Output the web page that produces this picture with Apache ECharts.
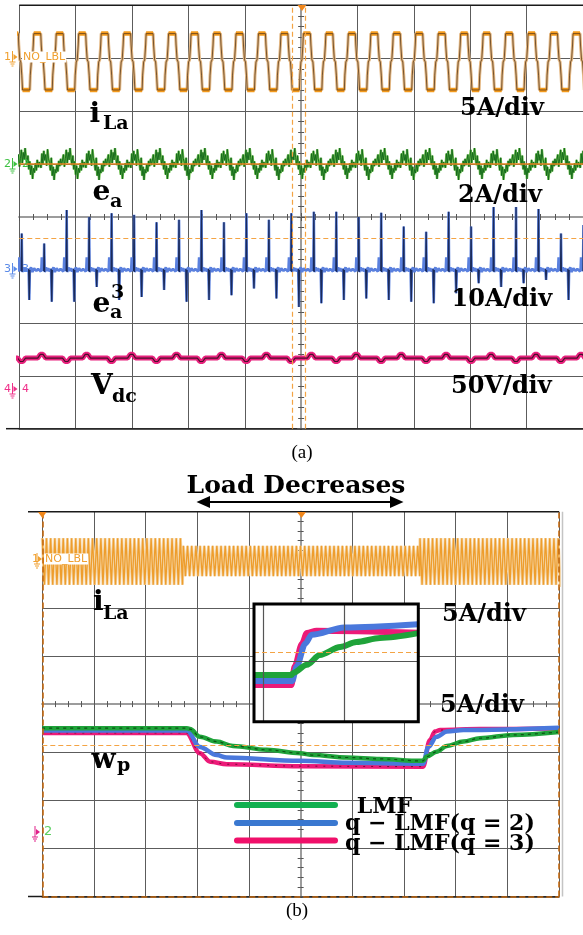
<!DOCTYPE html>
<html>
<head>
<meta charset="utf-8">
<title>Scope captures (a) / (b)</title>
<script src="https://cdn.jsdelivr.net/npm/echarts@6.0.0/dist/echarts.min.js"></script>
<style>
  html, body { margin: 0; padding: 0; background: #fff; }
  #chart { width: 583px; height: 935px; }
</style>
</head>
<body>
<div id="chart"></div>
<script>
// every value is in scope divisions (10 x 8 screen)

// ---- (a) steady state ----
const periodA = 0.3986
// one cycle of i_La, offsets from the start of the top plateau
const iLaShapeA = [[0, 7.465], [0.124, 7.465], [0.133, 7.25], [0.151, 6.97], [0.169, 6.93], [0.186, 6.68], [0.2, 6.40], [0.328, 6.40], [0.337, 6.68], [0.355, 6.93], [0.373, 6.97], [0.39, 7.25]]
const iLaPlateauA = [[0, 0.124, 7.465], [0.2, 0.328, 6.40]]
const iLaStartA = -0.142
// e_a, two cycles, 24 samples per cycle
const eaValuesA = [5.00, 5.18, 4.95, 5.10, 5.27, 5.02, 5.22, 5.08, 5.30, 5.12, 4.98, 5.16, 4.90, 5.05, 4.80, 4.97, 4.72, 4.92, 4.84, 5.02, 4.88, 5.08, 4.94, 5.04,
  5.06, 4.93, 5.20, 5.00, 5.25, 5.07, 5.18, 4.97, 5.28, 5.10, 5.03, 4.88, 5.12, 4.78, 4.95, 4.70, 4.90, 4.83, 5.00, 4.86, 5.06, 4.96, 5.10, 4.98]
const eaStartA = -0.03
// e_a^3 cycle around its spikes
const ea3ShapeA = [[-0.075, 3.02], [-0.06, 2.97], [-0.05, 3.03], [-0.042, 3.24], [-0.036, 3.0], [-0.02, 3.04], [-0.008, 2.98], [0, 'up'], [0.008, 2.96], [0.02, 2.93], [0.032, 3.05], [0.05, 2.98], [0.07, 3.03], [0.1, 2.97], [0.122, 3.02], [0.134, 'dn'], [0.144, 3.0], [0.165, 3.05], [0.19, 2.96], [0.22, 3.03], [0.26, 2.98], [0.29, 3.02], [0.315, 2.99]]
const ea3UpA = [3.69, 3.50, 4.13, 4.00, 4.07, 4.04, 3.90, 3.95, 4.13, 3.90, 4.07, 3.95, 4.07, 4.10, 4.10, 4.00, 4.08, 3.82, 3.72, 4.10, 3.82, 4.19, 4.19, 4.15, 3.69, 3.85]
const ea3DownA = [2.43, 2.40, 2.40, 2.68, 2.43, 2.49, 2.62, 2.40, 2.43, 2.52, 2.65, 2.46, 2.30, 2.37, 2.43, 2.46, 2.43, 2.40, 2.37, 2.56, 2.75, 2.68, 2.75, 2.81, 2.43, 2.50]
const ea3StartA = 0.043
// V_dc, one ripple cycle (two mains cycles)
const vdcShapeA = [[-0.07, 1.335], [-0.025, 1.405], [0.025, 1.405], [0.07, 1.335], [0.37, 1.335], [0.415, 1.27], [0.465, 1.27], [0.51, 1.335]]
const vdcStartA = -0.4
const cursorsHA = [3.59]
const cursorsVA = [4.84, 5.07]

// ---- (b) load step ----
const periodB = 0.081
const iLaOffsetsB = [0, 0.012, 0.04, 0.052]
const iLaHighB = [7.45, 7.41, 6.48, 6.44]
const iLaLowB = [7.29, 7.25, 6.66, 6.62]
const iLaSegmentsB = [[0, 2.73, 'high'], [2.73, 7.31, 'low'], [7.31, 10.05, 'high']]
const wpPink = [[0, 3.40], [2.79, 3.40], [3.05, 2.98], [3.25, 2.80], [3.57, 2.75], [4.99, 2.71], [7.37, 2.70], [7.50, 3.25], [7.60, 3.43], [7.70, 3.46], [8.47, 3.48], [10, 3.50]]
const wpBlue = [[0, 3.45], [2.80, 3.45], [3.05, 3.11], [3.375, 2.94], [3.57, 2.89], [4.99, 2.82], [5.9, 2.78], [7.37, 2.76], [7.47, 3.11], [7.63, 3.32], [7.83, 3.43], [8.15, 3.46], [10, 3.51]]
const wpGreen = [[0, 3.50], [2.80, 3.50], [2.86, 3.48], [3.05, 3.32], [3.375, 3.22], [3.69, 3.13], [4.34, 3.05], [4.99, 2.98], [5.24, 2.94], [5.89, 2.89], [6.54, 2.86], [7.31, 2.82], [7.37, 2.82], [7.44, 2.91], [7.63, 3.01], [7.83, 3.13], [8.15, 3.22], [8.47, 3.29], [9.11, 3.36], [10, 3.42]]
const cursorsHB = [3.15]
// zoomed inset (its own divisions)
const inPink = [[0, 0.45], [0.46, 0.45], [0.50, 0.68], [0.59, 0.96], [0.65, 1.09], [0.77, 1.12], [2.02, 1.095]]
const inBlue = [[0, 0.50], [0.47, 0.50], [0.525, 0.68], [0.63, 0.96], [0.71, 1.07], [1.11, 1.16], [2.02, 1.20]]
const inGreen = [[0, 0.575], [0.46, 0.575], [0.48, 0.60], [0.65, 0.70], [0.81, 0.82], [1.06, 0.92], [1.26, 0.98], [1.55, 1.03], [2.02, 1.09]]
const inGridX = [0.107, 1.107]
const inGridY = [0.738]
const inCursor = [0.861]

// ---------- helpers ----------
function tile(shape, period, start, end) {
  const out = []
  for (let t = start; t < end; t += period) {
    shape.forEach(p => out.push([t + p[0], p[1]]))
  }
  return out
}
function plateaus(list, period, start, end) {
  const out = []
  for (let t = start; t < end; t += period) {
    list.forEach(p => out.push([t + p[0], p[2]], [t + p[1], p[2]], [t + p[1], '-']))
  }
  return out
}
function tileValues(values, step, start, end) {
  const out = []
  for (let i = 0; start + i * step <= end + step; i++) out.push([start + i * step, values[i % values.length]])
  return out
}
function buildEa3() {
  const full = [], spikes = []
  for (let k = 0; k < ea3UpA.length; k++) {
    const t = ea3StartA + k * periodA
    ea3ShapeA.forEach((p, i) => {
      let y = p[1]
      if (y === 'up') y = ea3UpA[k]
      if (y === 'dn') y = ea3DownA[k]
      full.push([t + p[0], y])
      if (p[1] === 'up' || p[1] === 'dn') {
        const a = ea3ShapeA[i - 1], b = ea3ShapeA[i + 1]
        spikes.push([t + a[0], a[1]], [t + p[0], y], [t + b[0], b[1]], [t + b[0], '-'])
      }
    })
  }
  return { full, spikes }
}
function buildILaB() {
  const out = []
  iLaSegmentsB.forEach(seg => {
    const ys = seg[2] === 'high' ? iLaHighB : iLaLowB
    for (let t = seg[0]; t < seg[1]; t += periodB) {
      iLaOffsetsB.forEach((dx, i) => out.push([t + dx, ys[i]]))
    }
  })
  return out
}

const ea3 = buildEa3()
const iLaB = buildILaB()

// ---------- axes ----------
function mainX(gi) {
  return {
    type: 'value', gridIndex: gi, position: 'bottom', min: 0, max: 10, interval: 1,
    axisLine: { show: true, onZero: false, lineStyle: { color: '#1a1a1a', width: 1.5 } },
    axisTick: { show: false }, axisLabel: { show: false },
    splitLine: { show: true, lineStyle: { color: '#5c5c5c', width: 1 } }
  }
}
function mainY(gi) {
  return {
    type: 'value', gridIndex: gi, position: 'left', min: 0, max: 8, interval: 1,
    axisLine: { show: true, onZero: false, lineStyle: { color: '#5c5c5c', width: 1 } },
    axisTick: { show: false }, axisLabel: { show: false },
    splitLine: { show: true, lineStyle: { color: '#5c5c5c', width: 1 } }
  }
}
// centre cross lines with the small division marks
function centreX(gi, off, inside) {
  return {
    type: 'value', gridIndex: gi, position: 'bottom', offset: off, min: 0, max: 10, interval: 1,
    axisLine: { show: true, onZero: false, lineStyle: { color: '#9c9c9c', width: 2 } },
    axisTick: { show: true, inside: inside, length: 4, lineStyle: { color: '#555' } },
    minorTick: { show: true, splitNumber: 4, length: 3, lineStyle: { color: '#555' } },
    axisLabel: { show: false }, splitLine: { show: false }
  }
}
function centreY(gi, off, inside) {
  return {
    type: 'value', gridIndex: gi, position: 'left', offset: off, min: 0, max: 8, interval: 1,
    axisLine: { show: true, onZero: false, lineStyle: { color: '#9c9c9c', width: 2 } },
    axisTick: { show: true, inside: inside, length: 4, lineStyle: { color: '#555' } },
    minorTick: { show: true, splitNumber: 5, length: 3, lineStyle: { color: '#555' } },
    axisLabel: { show: false }, splitLine: { show: false }
  }
}

function line(name, data, xi, color, width, extra) {
  return Object.assign({
    name: name, type: 'line', data: data, xAxisIndex: xi, yAxisIndex: xi,
    showSymbol: false, symbol: 'none', silent: true, animation: false,
    lineStyle: { color: color, width: width }
  }, extra || {})
}

const dashOrange = { color: '#f4a444', width: 1.2, type: [5, 3] }
const edgeOrange = { color: '#c46a12', width: 1.6, type: [6, 3] }

// ---------- texts ----------
const serifB = '"DejaVu Serif", serif'
function txt(x, y, s, size, opt) {
  opt = opt || {}
  return {
    type: 'text', z: 10, silent: true,
    style: {
      x: x, y: y, text: s,
      font: (opt.weight || 'bold') + ' ' + size + 'px ' + (opt.family || serifB),
      fill: opt.color || '#000', align: opt.align || 'left', verticalAlign: 'middle',
      backgroundColor: opt.bg, padding: opt.bg ? [0, 1] : 0
    }
  }
}
function seg(x1, y1, x2, y2, color, w, extra) {
  return Object.assign({ type: 'line', silent: true, z: 9, shape: { x1, y1, x2, y2 }, style: { stroke: color, lineWidth: w } }, extra || {})
}
function tri(points, color, z) {
  return { type: 'polygon', silent: true, z: z || 9, shape: { points: points }, style: { fill: color } }
}
// little channel ground marker
function gnd(x, y, color) {
  return [
    seg(x, y - 6, x, y + 5, color, 1),
    seg(x - 3, y + 5, x + 3, y + 5, color, 1),
    seg(x - 2, y + 7, x + 2, y + 7, color, 1),
    seg(x - 1, y + 9, x + 1, y + 9, color, 1),
    tri([[x + 1, y - 3], [x + 5, y], [x + 1, y + 3]], color)
  ]
}
const sans = { weight: 'normal', family: '"DejaVu Sans", sans-serif' }

const graphics = [
  // (a) frame pieces
  seg(19.3, 5.3, 583, 5.3, '#1a1a1a', 1.5),
  seg(6, 428.7, 19.3, 428.7, '#1a1a1a', 1.5),
  tri([[297.5, 5], [306.5, 5], [302, 11]], '#f0861a'),
  // (b) frame pieces
  seg(28, 511.7, 559, 511.7, '#1a1a1a', 1.5),
  seg(28, 896.5, 42.3, 896.5, '#1a1a1a', 1.5),
  seg(562.5, 511.7, 562.5, 896.5, '#c4c4c4', 1.5),
  tri([[38, 512], [46.5, 512], [42.3, 518]], '#f0861a'),
  tri([[297, 512], [306, 512], [301.5, 518]], '#f0861a'),
  // inset box
  { type: 'rect', silent: true, z: 3, shape: { x: 254, y: 604, width: 164.3, height: 117.7 }, style: { fill: '#fff' } },
  { type: 'rect', silent: true, z: 6, shape: { x: 254, y: 604, width: 164.3, height: 117.7 }, style: { fill: 'none', stroke: '#000', lineWidth: 3 } },
  // Load Decreases arrow
  seg(206, 502, 393, 502, '#000', 2.2),
  tri([[196.5, 502], [210, 496], [210, 508]], '#000'),
  tri([[403.5, 502], [390, 496], [390, 508]], '#000'),
  // legend strokes
  seg(237, 805, 335, 805, '#12b050', 6, { style: { stroke: '#12b050', lineWidth: 6, lineCap: 'round' } }),
  seg(237, 823, 335, 823, '#3a78d0', 6, { style: { stroke: '#3a78d0', lineWidth: 6, lineCap: 'round' } }),
  seg(237, 840.5, 335, 840.5, '#f0106a', 6, { style: { stroke: '#f0106a', lineWidth: 6, lineCap: 'round' } }),

  // (a) channel markers
  txt(4, 57, '1', 11, Object.assign({ color: '#f0a030' }, sans)),
  txt(22, 57, 'NO_LBL', 11, Object.assign({ color: '#f0a030', bg: '#fff' }, sans)),
  txt(4, 164, '2', 11, Object.assign({ color: '#3cc040' }, sans)),
  txt(22, 164, '2', 11, Object.assign({ color: '#3cc040' }, sans)),
  txt(4, 269, '3', 11, Object.assign({ color: '#5a8ae8' }, sans)),
  txt(22, 269, '3', 11, Object.assign({ color: '#5a8ae8' }, sans)),
  txt(4, 389, '4', 11, Object.assign({ color: '#f0308a' }, sans)),
  txt(22, 389, '4', 11, Object.assign({ color: '#f0308a' }, sans)),
  ...gnd(12.5, 57, '#f0a030'), ...gnd(12.5, 164, '#3cc040'), ...gnd(12.5, 269, '#5a8ae8'), ...gnd(12.5, 389, '#f0308a'),
  // (a) trace labels
  txt(89.5, 115.2, 'i', 28), txt(103, 124.3, 'La', 19),
  txt(92.5, 193.2, 'e', 28), txt(110, 201.6, 'a', 19),
  txt(92.5, 305.2, 'e', 28), txt(110, 313.3, 'a', 19), txt(111, 293.3, '3', 19),
  txt(91, 386.9, 'V', 28), txt(112, 396.6, 'dc', 19),
  txt(460, 108.6, '5A/div', 24), txt(458, 195.6, '2A/div', 24),
  txt(451.5, 299.9, '10A/div', 24), txt(451, 386.6, '50V/div', 24),
  txt(302, 453, '(a)', 19, { weight: 'normal', family: '"Liberation Serif", serif', align: 'center' }),

  // (b)
  txt(296, 486.3, 'Load Decreases', 25, { align: 'center' }),
  txt(32, 559, '1', 11, Object.assign({ color: '#f0a030' }, sans)),
  txt(44, 559, 'NO_LBL', 11, Object.assign({ color: '#f0a030', bg: '#fff' }, sans)),
  ...gnd(37, 559, '#f0a030'),
  ...gnd(35, 832, '#e0208a'),
  txt(44, 832, '2', 13, Object.assign({ color: '#5ad060' }, sans)),
  txt(93, 603.2, 'i', 28), txt(103, 614.3, 'La', 19),
  txt(442, 614.3, '5A/div', 24), txt(440, 705.6, '5A/div', 24),
  txt(91.5, 760.9, 'w', 28), txt(117, 766.2, 'p', 19),
  txt(356.7, 807.3, 'LMF', 22),
  txt(345, 824, 'q − LMF(q = 2)', 22),
  txt(345, 844, 'q − LMF(q = 3)', 22),
  txt(297, 911, '(b)', 19, { weight: 'normal', family: '"Liberation Serif", serif', align: 'center' })
]

const option = {
  animation: false,
  backgroundColor: '#fff',
  grid: [
    { left: 19.3, top: 5.3, width: 563.7, height: 423.4, outerBoundsMode: 'none' },
    { left: 42.3, top: 511.7, width: 516.7, height: 384.8, outerBoundsMode: 'none' },
    { left: 254, top: 604, width: 164.3, height: 117.7, outerBoundsMode: 'none' }
  ],
  xAxis: [
    mainX(0), centreX(0, -211.7, false), centreX(0, -211.7, true),
    mainX(1), centreX(1, -192.4, false), centreX(1, -192.4, true),
    { type: 'value', gridIndex: 2, min: 0, max: 2.021, show: false }
  ],
  yAxis: [
    mainY(0), centreY(0, -281.85, false), centreY(0, -281.85, true),
    mainY(1), centreY(1, -258.35, false), centreY(1, -258.35, true),
    { type: 'value', gridIndex: 2, min: 0, max: 1.448, show: false }
  ],
  series: [
    // (a) i_La
    line('iLa base', tile(iLaShapeA, periodA, iLaStartA, 10.2), 0, '#e4b884', 3),
    line('iLa plateau', plateaus(iLaPlateauA, periodA, iLaStartA, 10.2), 0, '#f39a1d', 4.5),
    line('iLa trace', tile(iLaShapeA, periodA, iLaStartA, 10.2), 0, '#5a3a16', 0.8),
    // (a) e_a
    line('ea base', tileValues(eaValuesA, periodA / 24, eaStartA, 10.1), 0, '#74c454', 2.4),
    line('ea trace', tileValues(eaValuesA, periodA / 24, eaStartA, 10.1), 0, '#11651a', 0.9, {
      markLine: {
        silent: true, symbol: 'none', label: { show: false }, animation: false,
        data: [{ yAxis: 5, lineStyle: { color: '#e8821e', width: 1.6, type: 'solid' } }]
      }
    }),
    // (a) e_a^3
    line('ea3 base', ea3.full, 0, '#5a80de', 2.6),
    line('ea3 spikes', ea3.spikes, 0, '#1b2b5b', 1.3),
    // (a) Vdc
    line('vdc band', tile(vdcShapeA, periodA * 2, vdcStartA, 10.4), 0, '#e8217d', 5),
    line('vdc trace', tile(vdcShapeA, periodA * 2, vdcStartA, 10.4), 0, '#4a0f2a', 1.2, {
      markLine: {
        silent: true, symbol: 'none', label: { show: false }, animation: false,
        data: cursorsHA.map(v => ({ yAxis: v, lineStyle: dashOrange }))
          .concat(cursorsVA.map(v => ({ xAxis: v, lineStyle: dashOrange })))
      }
    }),

    // (b) i_La
    line('iLa b fill', iLaB, 3, '#f4d6a8', 3),
    line('iLa b', iLaB, 3, '#ee9d2c', 1.3),
    // (b) Wp
    line('Wp q=3', wpPink, 3, '#ec1a78', 4.5, { smooth: 0.35, smoothMonotone: 'x' }),
    line('Wp q=3 dark', wpPink, 3, '#7a0a35', 1, { smooth: 0.35, smoothMonotone: 'x', lineStyle: { color: '#7a0a35', width: 1, type: [2, 6] } }),
    line('Wp q=2', wpBlue, 3, '#4a78dc', 4.5, { smooth: 0.35, smoothMonotone: 'x' }),
    line('Wp LMF', wpGreen, 3, '#1fa33a', 4.5, { smooth: 0.35, smoothMonotone: 'x' }),
    line('Wp LMF dark', wpGreen, 3, '#0c5414', 1.2, {
      smooth: 0.35, smoothMonotone: 'x',
      lineStyle: { color: '#0c5414', width: 1.2, type: [3, 4] },
      markLine: {
        silent: true, symbol: 'none', label: { show: false }, animation: false,
        data: cursorsHB.map(v => ({ yAxis: v, lineStyle: dashOrange }))
          .concat([{ xAxis: 0, lineStyle: edgeOrange }, { xAxis: 10, lineStyle: edgeOrange }, { yAxis: 0, lineStyle: edgeOrange }])
      }
    }),

    // inset
    line('in q=3', inPink, 6, '#ec1a78', 6, {
      z: 4, smooth: 0.3, smoothMonotone: 'x',
      markLine: {
        silent: true, symbol: 'none', label: { show: false }, animation: false,
        data: inGridX.map(v => ({ xAxis: v, lineStyle: { color: '#555', width: 1.2, type: 'solid' } }))
          .concat(inGridY.map(v => ({ yAxis: v, lineStyle: { color: '#555', width: 1.2, type: 'solid' } })))
          .concat(inCursor.map(v => ({ yAxis: v, lineStyle: dashOrange })))
      }
    }),
    line('in q=2', inBlue, 6, '#4a78dc', 6, { z: 4, smooth: 0.3, smoothMonotone: 'x' }),
    line('in LMF', inGreen, 6, '#1fa33a', 6, { z: 4, smooth: 0.3, smoothMonotone: 'x' })
  ],
  graphic: { elements: graphics }
}

const chart = echarts.init(document.getElementById('chart'))
chart.setOption(option)
</script>
</body>
</html>
